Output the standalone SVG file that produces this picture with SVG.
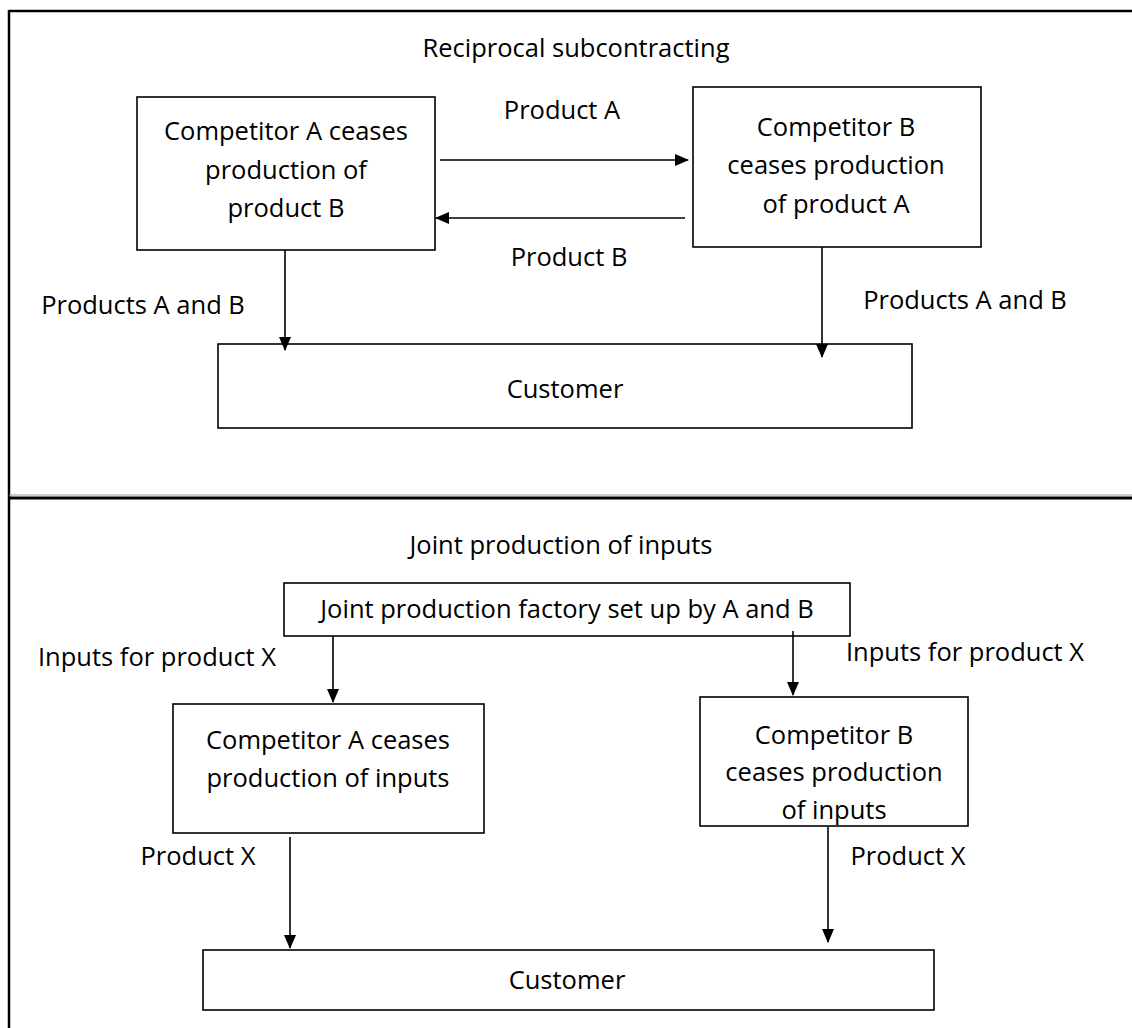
<svg xmlns="http://www.w3.org/2000/svg" width="1132" height="1028" viewBox="0 0 1132 1028">
<style>
.box{fill:#fff;stroke:#000;stroke-width:1.6}
.frame{stroke:#000;stroke-width:2.5;fill:none}
.t{font-family:"Open Sans","Liberation Sans",sans-serif;font-size:25.5px;fill:#000;text-anchor:middle}
.c{stroke:#000;stroke-width:1.6;fill:none}
</style>
<defs>
<marker id="ah" viewBox="0 0 14 12" refX="13" refY="6" markerWidth="14" markerHeight="12" markerUnits="userSpaceOnUse" orient="auto">
<path d="M0,0 L14,6 L0,12 Z" fill="#000"/>
</marker>
</defs>
<rect width="1132" height="1028" fill="#fff"/>
<g id="frame">
<line class="frame" x1="9" y1="11" x2="1132" y2="11"/>
<line class="frame" x1="9" y1="10" x2="9" y2="1028"/>
<line x1="9" y1="495" x2="1132" y2="495" stroke="#999" stroke-width="1"/>
<line x1="9" y1="498" x2="1132" y2="498" stroke="#000" stroke-width="3"/>
</g>
<g id="titles">
<text class="t" x="576" y="57">Reciprocal subcontracting</text>
<text class="t" x="561" y="554">Joint production of inputs</text>
</g>
<g id="compA1">
<rect class="box" x="137" y="97" width="298" height="153"/>
<text class="t" x="286" y="140">Competitor A ceases</text>
<text class="t" x="286" y="179">production of</text>
<text class="t" x="286" y="217">product B</text>
</g>
<g id="compB1">
<rect class="box" x="693" y="87" width="288" height="160"/>
<text class="t" x="836" y="136">Competitor B</text>
<text class="t" x="836" y="174">ceases production</text>
<text class="t" x="836" y="213">of product A</text>
</g>
<g id="customer1">
<rect class="box" x="218" y="344" width="694" height="84"/>
<text class="t" x="565" y="398">Customer</text>
</g>
<g id="joint">
<rect class="box" x="284" y="583" width="566" height="53"/>
<text class="t" x="567" y="618">Joint production factory set up by A and B</text>
</g>
<g id="compA2">
<rect class="box" x="173" y="704" width="311" height="129"/>
<text class="t" x="328" y="749">Competitor A ceases</text>
<text class="t" x="328" y="787">production of inputs</text>
</g>
<g id="compB2">
<rect class="box" x="700" y="697" width="268" height="129"/>
<text class="t" x="834" y="744">Competitor B</text>
<text class="t" x="834" y="781">ceases production</text>
<text class="t" x="834" y="819">of inputs</text>
</g>
<g id="customer2">
<rect class="box" x="203" y="950" width="731" height="60"/>
<text class="t" x="567" y="989">Customer</text>
</g>
<g id="connectors">
<line class="c" x1="440" y1="160" x2="688" y2="160" marker-end="url(#ah)"/>
<line class="c" x1="685" y1="218" x2="436" y2="218" marker-end="url(#ah)"/>
<line class="c" x1="285" y1="250" x2="285" y2="350" marker-end="url(#ah)"/>
<line class="c" x1="822" y1="247" x2="822" y2="357" marker-end="url(#ah)"/>
<line class="c" x1="333" y1="636" x2="333" y2="702" marker-end="url(#ah)"/>
<line class="c" x1="793" y1="631" x2="793" y2="695" marker-end="url(#ah)"/>
<line class="c" x1="290" y1="837" x2="290" y2="948" marker-end="url(#ah)"/>
<line class="c" x1="828" y1="827" x2="828" y2="942" marker-end="url(#ah)"/>
<text class="t" x="562" y="119">Product A</text>
<text class="t" x="569" y="266">Product B</text>
<text class="t" x="143" y="314">Products A and B</text>
<text class="t" x="965" y="309">Products A and B</text>
<text class="t" x="157" y="666">Inputs for product X</text>
<text class="t" x="965" y="661">Inputs for product X</text>
<text class="t" x="198" y="865">Product X</text>
<text class="t" x="908" y="865">Product X</text>
</g>
</svg>
